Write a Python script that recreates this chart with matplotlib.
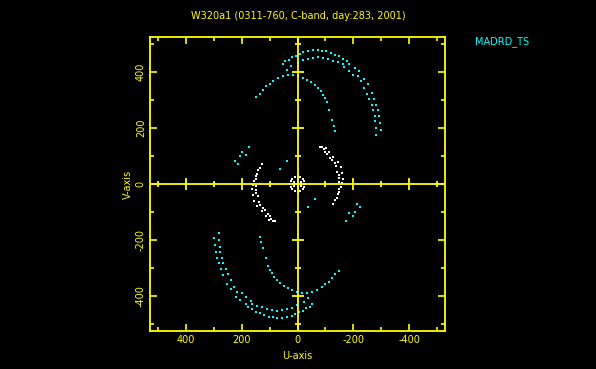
import matplotlib.pyplot as plt
import numpy as np

plt.rcParams['axes.unicode_minus'] = False

# ---------------------------------------------------------------------------
# Data: (u, v) samples, upper half only.
# The lower half of a UV plot is the conjugate (-u, -v).
# ---------------------------------------------------------------------------

# outer cyan track
outer_u = [52, 43, 37, 31, 23, 19, 5, -9, -21, -37, -55, -72, -88, -102, -120, -136,
           -150, -164, -176, -186, -207, -221, -239, -251, -267, -275, -281, -287,
           -290, -295, -299]
outer_v = [428, 438, 406, 444, 420, 452, 458, 464, 471, 476, 477, 477, 476, 474, 468, 462,
           456, 447, 438, 430, 414, 402, 375, 358, 325, 304, 283, 265,
           244, 218, 194]

# second cyan track (just inside the outer one)
second_u = [-1, -19, -37, -55, -72, -90, -108, -126, -144, -162, -168, -183, -200, -215,
            -227, -237, -248, -257, -265, -271, -276, -279, -281, -281]
second_v = [432, 444, 447, 450, 452, 450, 446, 441, 436, 428, 418, 402, 390, 387,
            367, 343, 323, 304, 283, 265, 244, 224, 200, 176]

# inner cyan arc
inner_u = [148, 136, 124, 112, 100, 88, 70, 52, 35, 17, -1, -19, -33, -49, -61, -72,
           -84, -93, -100, -105, -114, -124, -130, -133]
inner_v = [309, 321, 337, 349, 357, 369, 378, 384, 388, 388, 384, 378, 372, 364, 355, 343,
           331, 319, 307, 293, 265, 230, 206, 188]

# short cyan fragments
frag_u = [225, 213, 205, 198, 183, 174, 64, 37]
frag_v = [83, 73, 99, 115, 105, 131, 54, 81]

# white arc left of centre
white_u = [126, 136, 142, 145, 150, 148, 154, 160, 150, 162, 150, 150, 160, 142, 154, 138,
           133, 145, 124, 118, 126, 106, 112, 98, 94, 102, 88, 79]
white_v = [73, 57, 49, 37, 27, 18, 9, -2, -8, -18, -20, -32, -38, -44, -60, -66,
           -74, -77, -86, -92, -98, -106, -113, -113, -124, -127, -131, -131]

# white ring at the origin
ring_u = [0, 10, 19, 25, 27, 25, 19, 10, 0, -10, -19, -25, -27, 14, 16, 14]
ring_v = [27, 25, 19, 10, 0, -10, -19, -25, -27, -25, -19, -10, 0, 8, 0, -8]

major_ticks = [-400, -200, 0, 200, 400]
tick_labels = ['-400', '-200', '0', '200', '400']
minor_ticks = [-500, -300, -100, 100, 300, 500]

fig = plt.figure(figsize=(5.96, 3.69), dpi=100, facecolor='black')
ax = fig.add_axes([150 / 596, 38 / 369, 295 / 596, 294 / 369], facecolor='black')

yel = '#ffff00'
cyan = '#00ffff'

# conjugate points too
for us, vs, col in [(outer_u, outer_v, cyan), (second_u, second_v, cyan),
                    (inner_u, inner_v, cyan), (frag_u, frag_v, cyan),
                    (white_u, white_v, 'white'), (ring_u, ring_v, 'white')]:
    u = np.array(us)
    v = np.array(vs)
    ax.plot(np.r_[u, -u], np.r_[v, -v], ls='none', marker='s', ms=1.5, mew=0, color=col)

# cross through the origin with its own ticks
ax.axhline(0, color=yel, lw=1.3)
ax.axvline(0, color=yel, lw=1.3)
zeros_maj = np.zeros(len(major_ticks))
zeros_min = np.zeros(len(minor_ticks))
ax.plot(major_ticks, zeros_maj, ls='none', marker='|', ms=8, mew=1.3, color=yel)
ax.plot(minor_ticks, zeros_min, ls='none', marker='|', ms=4, mew=1.3, color=yel)
ax.plot(zeros_maj, major_ticks, ls='none', marker='_', ms=8, mew=1.3, color=yel)
ax.plot(zeros_min, minor_ticks, ls='none', marker='_', ms=4, mew=1.3, color=yel)

ax.set_xlim(528, -528)
ax.set_ylim(-525, 525)

ax.set_xticks(major_ticks)
ax.set_xticklabels(tick_labels)
ax.set_yticks(major_ticks)
ax.set_yticklabels(tick_labels)
ax.set_xticks(minor_ticks, minor=True)
ax.set_yticks(minor_ticks, minor=True)

for s in ax.spines.values():
    s.set_color(yel)
    s.set_linewidth(1.3)

ax.tick_params(which='both', direction='in', top=True, right=True, color=yel,
               labelcolor=yel, labelsize=7, width=1.2)
ax.tick_params(which='major', length=5, pad=3)
ax.tick_params(which='minor', length=3)
for lab in ax.get_yticklabels():
    lab.set_rotation(90)
    lab.set_va('center')

ax.set_xlabel('U-axis', color=yel, fontsize=7, labelpad=4)
ax.set_ylabel('V-axis', color=yel, fontsize=7, labelpad=2)

fig.text(298 / 596, 1 - 16 / 369, 'W320a1 (0311-760, C-band, day:283, 2001)',
         color=yel, fontsize=7, ha='center', va='center')
fig.text(475 / 596, 1 - 42 / 369, 'MADRD_TS', color=cyan, fontsize=7,
         ha='left', va='center')

plt.savefig('out.png', dpi=100, facecolor='black')
